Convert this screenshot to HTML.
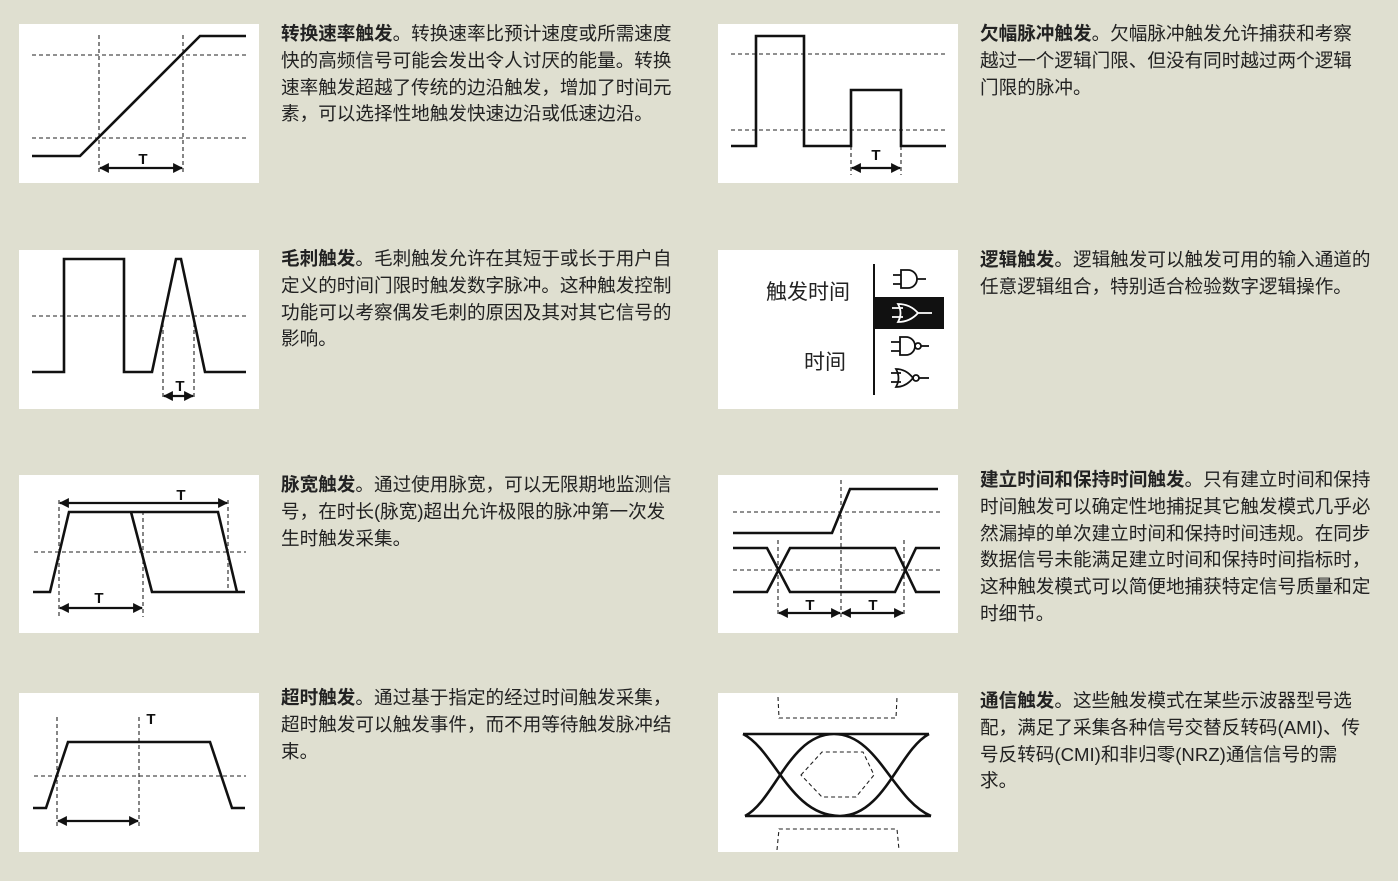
<!DOCTYPE html>
<html><head><meta charset="utf-8"><style>
body{margin:0;width:1398px;height:881px;background:#dfdfd0;position:relative;overflow:hidden;font-family:"Liberation Sans","Noto Sans CJK SC",sans-serif;}
.t{position:absolute;font-size:18.6px;line-height:26.8px;color:#222;white-space:nowrap;}
.t b{font-weight:bold;}
svg{position:absolute;left:0;top:0;}
</style></head><body>
<svg width="1398" height="881" viewBox="0 0 1398 881">
<defs>
<marker id="a" viewBox="0 0 10 10" refX="9" refY="5" markerWidth="4.5" markerHeight="4.5" orient="auto-start-reverse"><path d="M0,0L10,5L0,10z" fill="#111"/></marker>
</defs>
<g fill="#fff">
<rect x="19" y="24" width="240" height="159"/><rect x="718" y="24" width="240" height="159"/>
<rect x="19" y="250" width="240" height="159"/><rect x="718" y="250" width="240" height="159"/>
<rect x="19" y="475" width="240" height="158"/><rect x="718" y="475" width="240" height="158"/>
<rect x="19" y="693" width="240" height="159"/><rect x="718" y="693" width="240" height="159"/>
</g>
<g stroke="#222" stroke-width="1.1" stroke-dasharray="4,3" fill="none">
<path d="M32,55H246M32,138H246M99,35V175M183,35V175"/>
<path d="M731,54H946M731,130H946M851,146V175M901,146V175"/>
<path d="M32,316H246M163,316V400M194,316V400"/>
<path d="M34,552H246M59,500V617M143,511V617M228,500V592"/>
<path d="M733,512H940M733,570H940M778,540V617M841,480V617M904,540V617"/>
<path d="M34,776H246M57,717V828M139,717V828"/>
<path d="M778,697L779,718H896L897,697M777,850L779,829H897L899,850M801,775L822,752H863L874,775L856,797H822Z"/>
</g>
<g stroke="#111" stroke-width="2.6" fill="none" stroke-linejoin="miter">
<path d="M32,156H80L200,36H246"/>
<path d="M731,146H756V36H804V146H851V90H901V146H946"/>
<path d="M32,372H64V259H124V372H152L176,259H181L205,372H246"/>
<path d="M33,592H50L69,512H218L237,592H245M131,512L152,592H237"/>
<path d="M733,533H832L850,489H938M733,548H767L790,592H895L916,548H940M733,592H767L790,548H895L916,592H940"/>
<path d="M33,808H46L68,742H210L232,808H245"/>
<path d="M743,734H929M745,816H931M745,816C775,800 790,734 834,734C878,734 893,800 931,816M743,734C775,750 790,816 840,816C884,816 899,750 929,734"/>
</g>
<g stroke="#111" stroke-width="2.2" fill="none" marker-start="url(#a)" marker-end="url(#a)">
<path d="M100,168H182"/><path d="M852,168H900"/><path d="M164,396H193"/>
<path d="M60,503H227"/><path d="M60,608H142"/>
<path d="M779,613H840"/><path d="M842,613H903"/><path d="M58,821H138"/>
</g>
<g font-family="Liberation Sans,sans-serif" font-weight="bold" font-size="15" text-anchor="middle" fill="#111">
<text x="143" y="164">T</text><text x="876" y="160">T</text><text x="180" y="391">T</text>
<text x="181" y="500">T</text><text x="99" y="603">T</text><text x="810" y="610">T</text><text x="873" y="610">T</text><text x="151" y="724">T</text>
</g>
<rect x="874" y="297" width="70" height="32" fill="#111"/>
<path d="M874,264V395" stroke="#111" stroke-width="2"/>
<g stroke="#111" stroke-width="1.8" fill="none">
<path d="M893,275H901M893,284H901M901,270H908A9,9 0 0 1 908,288H901Z M917,279H926"/>
<path d="M891,342H900M891,351H900M900,337H906A9,9 0 0 1 906,355H900Z"/><circle cx="918" cy="346" r="3"/><path d="M921,346H929"/>
<path d="M891,373H901M891,382H901M896,369Q906,369 913,378Q906,387 896,387Q901,378 896,369Z"/><circle cx="916" cy="378" r="3"/><path d="M919,378H929"/>
</g>
<g stroke="#fff" stroke-width="1.8" fill="none">
<path d="M892,308H903M892,317H903M898,304Q910,304 918,313Q910,322 898,322Q903,313 898,304Z M918,313H932"/>
</g>
<text x="808" y="299" font-size="21" text-anchor="middle" fill="#222" font-family="Liberation Sans,Noto Sans CJK SC,sans-serif">触发时间</text>
<text x="825" y="369" font-size="21" text-anchor="middle" fill="#222" font-family="Liberation Sans,Noto Sans CJK SC,sans-serif">时间</text>
</svg>
<div class="t" style="left:281px;top:21px"><b>转换速率触发</b>。转换速率比预计速度或所需速度<br>快的高频信号可能会发出令人讨厌的能量。转换<br>速率触发超越了传统的边沿触发，增加了时间元<br>素，可以选择性地触发快速边沿或低速边沿。</div>
<div class="t" style="left:980px;top:21px"><b>欠幅脉冲触发</b>。欠幅脉冲触发允许捕获和考察<br>越过一个逻辑门限、但没有同时越过两个逻辑<br>门限的脉冲。</div>
<div class="t" style="left:281px;top:246px"><b>毛刺触发</b>。毛刺触发允许在其短于或长于用户自<br>定义的时间门限时触发数字脉冲。这种触发控制<br>功能可以考察偶发毛刺的原因及其对其它信号的<br>影响。</div>
<div class="t" style="left:980px;top:247px"><b>逻辑触发</b>。逻辑触发可以触发可用的输入通道的<br>任意逻辑组合，特别适合检验数字逻辑操作。</div>
<div class="t" style="left:281px;top:472px"><b>脉宽触发</b>。通过使用脉宽，可以无限期地监测信<br>号，在时长(脉宽)超出允许极限的脉冲第一次发<br>生时触发采集。</div>
<div class="t" style="left:980px;top:467px"><b>建立时间和保持时间触发</b>。只有建立时间和保持<br>时间触发可以确定性地捕捉其它触发模式几乎必<br>然漏掉的单次建立时间和保持时间违规。在同步<br>数据信号未能满足建立时间和保持时间指标时，<br>这种触发模式可以简便地捕获特定信号质量和定<br>时细节。</div>
<div class="t" style="left:281px;top:685px"><b>超时触发</b>。通过基于指定的经过时间触发采集，<br>超时触发可以触发事件，而不用等待触发脉冲结<br>束。</div>
<div class="t" style="left:980px;top:688px"><b>通信触发</b>。这些触发模式在某些示波器型号选<br>配，满足了采集各种信号交替反转码(AMI)、传<br>号反转码(CMI)和非归零(NRZ)通信信号的需<br>求。</div>
</body></html>
